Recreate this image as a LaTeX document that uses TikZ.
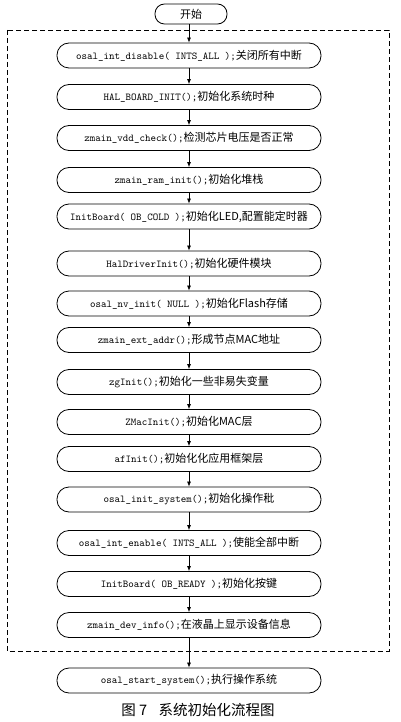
\documentclass[tikz,border=0pt]{standalone}
\usepackage{fontspec}
\newfontfamily\cjkfont{Noto Sans CJK SC}
\newcommand\cn[1]{{\cjkfont\fontsize{11}{13}\selectfont #1}}
\usetikzlibrary{arrows.meta}
\begin{document}
\begin{tikzpicture}[x=1pt,y=-1pt,
  stepbox/.style={draw, line width=0.8pt, rounded corners=12pt, minimum width=264pt, minimum height=25pt, inner sep=0pt,
    font=\ttfamily\fontsize{10.5}{12}\selectfont},
  startbox/.style={draw, line width=0.8pt, rounded corners=9.5pt, minimum width=72pt, minimum height=20pt, inner sep=0pt},
  flow/.style={-{Latex[length=5pt,width=4pt]}, line width=0.7pt},
  frame/.style={draw, dashed, dash pattern=on 5pt off 3pt, line width=0.8pt}]
\useasboundingbox (0,0) rectangle (400,722);
\fill[white] (0,0) rectangle (400,722);
\draw[frame] (7,30) rectangle (389,651);
\node[startbox] (s) at (191,14) {\cn{开始}};
\node[stepbox] (b1) at (189,55.5) {osal\_int\_disable( INTS\_ALL );\cn{关闭所有中断}};
\node[stepbox] (b2) at (189,97) {HAL\_BOARD\_INIT();\cn{初始化系统时种}};
\node[stepbox] (b3) at (189,138) {zmain\_vdd\_check();\cn{检测芯片电压是否正常}};
\node[stepbox] (b4) at (189,180) {zmain\_ram\_init();\cn{初始化堆栈}};
\node[stepbox] (b5) at (189,216.5) {InitBoard( OB\_COLD );\cn{初始化LED,配置能定时器}};
\node[stepbox] (b6) at (189,263.5) {HalDriverInit();\cn{初始化硬件模块}};
\node[stepbox] (b7) at (189,303.5) {osal\_nv\_init( NULL );\cn{初始化Flash存储}};
\node[stepbox] (b8) at (189,340) {zmain\_ext\_addr();\cn{形成节点MAC地址}};
\node[stepbox] (b9) at (189,382) {zgInit();\cn{初始化一些非易失变量}};
\node[stepbox] (b10) at (189,422) {ZMacInit();\cn{初始化MAC层}};
\node[stepbox] (b11) at (189,459) {afInit();\cn{初始化化应用框架层}};
\node[stepbox] (b12) at (189,499.5) {osal\_init\_system();\cn{初始化操作秕}};
\node[stepbox] (b13) at (189,543) {osal\_int\_enable( INTS\_ALL );\cn{使能全部中断}};
\node[stepbox] (b14) at (189,584) {InitBoard( OB\_READY );\cn{初始化按键}};
\node[stepbox] (b15) at (189,625) {zmain\_dev\_info();\cn{在液晶上显示设备信息}};
\node[stepbox] (b16) at (189,680.5) {osal\_start\_system();\cn{执行操作系统}};
\node[font=\cjkfont\fontsize{14.5}{16}\selectfont] (cap) at (198,710) {图 7\hspace{0.8em}系统初始化流程图};
\draw[flow] (s.south -| b1.north) -- (b1.north);
\foreach \a/\b in {b1/b2,b2/b3,b3/b4,b4/b5,b5/b6,b6/b7,b7/b8,b8/b9,b9/b10,b10/b11,b11/b12,b12/b13,b13/b14,b14/b15,b15/b16}
  \draw[flow] (\a.south) -- (\b.north);
\end{tikzpicture}
\end{document}
